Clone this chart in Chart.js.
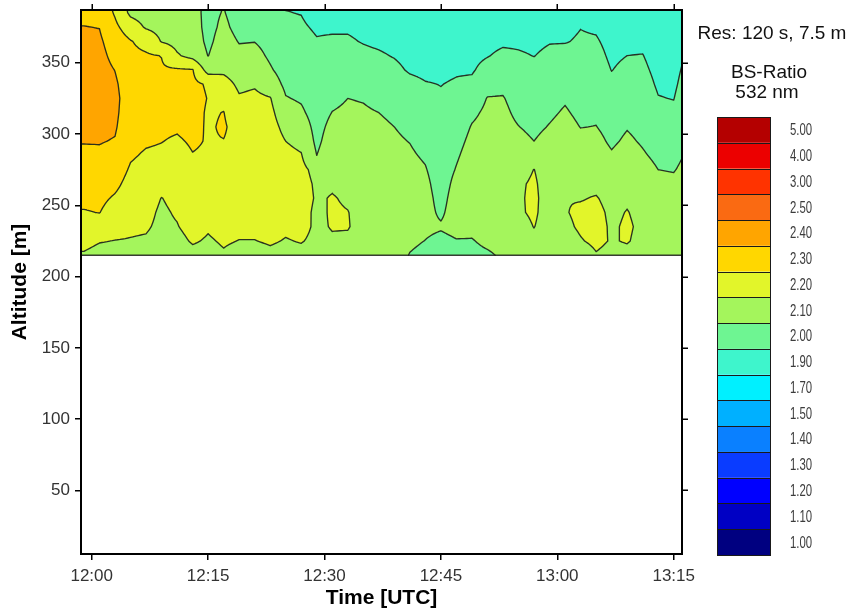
<!DOCTYPE html>
<html><head><meta charset="utf-8">
<script src="https://cdn.jsdelivr.net/npm/chart.js@4.4.1/dist/chart.umd.min.js"></script>
<style>html,body{margin:0;padding:0;background:#fff;}canvas{display:block;}</style>
</head><body>
<canvas id="c" width="854" height="612"></canvas>
<script>
// ---- data (minutes after 12:00 UTC, altitude in m, backscatter ratio 532 nm) ----
const times = [-1,1,3,5,7,9,11,13,15,17,19,21,23,25,27,29,31,33,35,37,39,41,43,45,47,49,51,53,55,57,59,61,63,65,67,69,71,73,75,77];
const altitudes = [215,225,235,245,255,265,275,285,295,305,315,325,335,345,355,365,375,385,395];
const bs215 = [2.19,2.17,2.165,2.16,2.16,2.15,2.15,2.17,2.17,2.19, 2.17,2.165,2.18,2.17,2.175,2.17,2.165,2.16,2.15,2.15, 2.15,2.095,2.07,2.05,2.05,2.06,2.08,2.12,2.13,2.14, 2.15,2.15,2.16,2.195,2.18,2.18,2.16,2.15,2.15,2.16];
const bs225 = [2.227,2.205,2.198,2.195,2.19,2.17,2.17,2.21,2.19,2.21, 2.198,2.198,2.21,2.195,2.205,2.18,2.19,2.185,2.16,2.16, 2.155,2.12,2.098,2.075,2.095,2.092,2.13,2.15,2.155,2.18, 2.165,2.17,2.195,2.215,2.195,2.205,2.18,2.165,2.16,2.17];
const bs235 = [2.26,2.25,2.23,2.215,2.21,2.18,2.195,2.235,2.21,2.23, 2.22,2.22,2.23,2.215,2.225,2.185,2.205,2.205,2.17,2.165, 2.16,2.14,2.12,2.11,2.13,2.135,2.16,2.17,2.17,2.202, 2.165,2.185,2.21,2.225,2.19,2.21,2.185,2.17,2.165,2.175];
const bs245 = [2.295,2.302,2.26,2.235,2.225,2.185,2.21,2.255,2.235,2.245, 2.24,2.24,2.245,2.23,2.235,2.18,2.21,2.202,2.175,2.17, 2.165,2.15,2.13,2.085,2.145,2.16,2.175,2.18,2.19,2.212, 2.165,2.195,2.215,2.22,2.185,2.203,2.18,2.165,2.16,2.17];
const bs255 = [2.318,2.32,2.29,2.255,2.24,2.198,2.225,2.27,2.255,2.26, 2.255,2.255,2.255,2.24,2.24,2.19,2.205,2.19,2.175,2.17, 2.165,2.15,2.13,2.07,2.14,2.17,2.18,2.185,2.19,2.215, 2.165,2.198,2.195,2.205,2.175,2.19,2.17,2.15,2.145,2.16];
const bs265 = [2.339,2.34,2.32,2.27,2.255,2.245,2.24,2.28,2.27,2.27, 2.265,2.265,2.26,2.245,2.235,2.185,2.19,2.18,2.17,2.165, 2.155,2.14,2.12,2.06,2.125,2.165,2.18,2.185,2.19,2.21, 2.165,2.19,2.185,2.18,2.16,2.175,2.155,2.125,2.12,2.145];
const bs275 = [2.36,2.36,2.345,2.29,2.27,2.265,2.255,2.29,2.28,2.275, 2.27,2.27,2.26,2.235,2.225,2.17,2.175,2.17,2.16,2.155, 2.14,2.125,2.105,2.055,2.105,2.15,2.17,2.175,2.175,2.201, 2.165,2.18,2.17,2.165,2.14,2.16,2.135,2.1,2.095,2.13];
const bs285 = [2.38,2.385,2.37,2.31,2.29,2.285,2.27,2.297,2.29,2.285, 2.275,2.27,2.255,2.22,2.205,2.1,2.16,2.16,2.15,2.145, 2.125,2.11,2.09,2.05,2.09,2.135,2.155,2.16,2.145,2.15, 2.15,2.165,2.15,2.145,2.11,2.14,2.11,2.08,2.075,2.115];
const bs295 = [2.405,2.405,2.395,2.325,2.31,2.302,2.29,2.31,2.295,2.298, 2.275,2.265,2.25,2.2,2.18,2.08,2.145,2.145,2.14,2.13, 2.11,2.098,2.075,2.045,2.075,2.12,2.14,2.145,2.125,2.1, 2.13,2.15,2.125,2.125,2.085,2.115,2.09,2.06,2.055,2.102];
const bs305 = [2.42,2.42,2.41,2.335,2.325,2.315,2.31,2.325,2.29,2.31, 2.265,2.255,2.24,2.17,2.15,2.07,2.125,2.13,2.125,2.115, 2.1,2.085,2.06,2.035,2.06,2.105,2.125,2.13,2.102,2.08, 2.105,2.13,2.098,2.102,2.07,2.095,2.075,2.04,2.035,2.09];
const bs315 = [2.43,2.43,2.42,2.34,2.335,2.325,2.32,2.33,2.29,2.302, 2.245,2.24,2.225,2.135,2.115,2.06,2.102,2.115,2.11,2.1, 2.085,2.07,2.045,2.025,2.045,2.085,2.115,2.12,2.08,2.07, 2.085,2.11,2.08,2.085,2.055,2.075,2.06,2.02,2.015,2.075];
const bs325 = [2.44,2.44,2.425,2.345,2.335,2.325,2.32,2.33,2.297,2.28, 2.21,2.22,2.205,2.105,2.09,2.05,2.08,2.1,2.095,2.08, 2.065,2.05,2.03,2.01,2.025,2.06,2.103,2.105,2.065,2.06, 2.07,2.09,2.065,2.07,2.04,2.06,2.045,2.003,1.998,2.06];
const bs335 = [2.45,2.45,2.415,2.34,2.33,2.32,2.315,2.32,2.29,2.24, 2.18,2.19,2.15,2.08,2.07,2.04,2.06,2.08,2.075,2.06, 2.045,2.025,2.005,1.998,2.01,2.02,2.075,2.08,2.05,2.045, 2.055,2.075,2.05,2.055,2.02,2.04,2.03,1.99,1.985,2.045];
const bs345 = [2.44,2.44,2.398,2.33,2.32,2.31,2.31,2.305,2.16,2.18, 2.15,2.16,2.11,2.06,2.055,2.03,2.045,2.06,2.05,2.035, 2.02,1.99,1.98,1.98,1.99,1.99,2.035,2.06,2.035,2.025, 2.04,2.055,2.035,2.04,1.998,2.02,2.015,1.98,1.975,2.03];
const bs355 = [2.43,2.43,2.37,2.32,2.31,2.298,2.21,2.17,2.098,2.16, 2.125,2.13,2.085,2.04,2.04,2.02,2.03,2.04,2.02,2.01, 1.995,1.975,1.97,1.97,1.975,1.975,1.995,2.02,2.01,1.998, 2.02,2.03,2.02,2.025,1.985,2.0,2.002,1.97,1.965,2.015];
const bs365 = [2.415,2.415,2.35,2.305,2.27,2.195,2.17,2.15,2.08,2.14, 2.095,2.098,2.07,2.025,2.025,2.005,2.01,2.01,1.995,1.985, 1.975,1.965,1.96,1.96,1.965,1.965,1.975,1.985,1.985,1.98, 1.995,1.995,2.01,2.008,1.975,1.985,1.985,1.965,1.96,2.005];
const bs375 = [2.402,2.398,2.32,2.25,2.19,2.17,2.155,2.14,2.072,2.12, 2.07,2.07,2.06,2.012,2.01,1.99,1.99,1.99,1.98,1.97, 1.965,1.955,1.955,1.955,1.955,1.955,1.965,1.97,1.97,1.97, 1.98,1.98,1.998,1.99,1.965,1.975,1.975,1.96,1.955,1.99];
const bs385 = [2.38,2.37,2.29,2.18,2.16,2.155,2.15,2.13,2.075,2.105, 2.06,2.05,2.045,2.002,1.998,1.97,1.975,1.975,1.97,1.96, 1.955,1.95,1.95,1.95,1.95,1.95,1.955,1.96,1.96,1.96, 1.965,1.965,1.98,1.975,1.96,1.965,1.965,1.955,1.95,1.98];
const bs395 = [2.37,2.36,2.27,2.16,2.15,2.15,2.145,2.12,2.085,2.095, 2.055,2.04,2.04,1.99,1.99,1.96,1.965,1.965,1.96,1.955, 1.95,1.945,1.945,1.945,1.945,1.945,1.95,1.955,1.955,1.955, 1.955,1.955,1.97,1.965,1.955,1.96,1.96,1.95,1.945,1.97];
const bsRows = [bs215,bs225,bs235,bs245,bs255,bs265,bs275,bs285,bs295,bs305,bs315,bs325,bs335,bs345,bs355,bs365,bs375,bs385,bs395];

const levelValues = [1.0,1.1,1.2,1.3,1.4,1.5,1.7,1.9,2.0,2.1,2.2,2.3,2.4,2.5,3.0,4.0,5.0];
const levelLabels = ['1.00','1.10','1.20','1.30','1.40','1.50','1.70','1.90','2.00','2.10','2.20','2.30','2.40','2.50','3.00','4.00','5.00'];
const levelColors = ['#000080','#0000c4','#0000ff','#0a3cff','#0a80ff','#00b0ff','#00f0ff','#3ef5cc','#6ef592','#a4f55c','#e2f52a','#ffd700','#ffa500','#fa6a12','#ff3300','#ec0000','#b40000'];

const timeTicks = [0,15,30,45,60,75];
const timeTickLabels = ['12:00','12:15','12:30','12:45','13:00','13:15'];
const altTicks = [50,100,150,200,250,300,350];

const FONT = "'Liberation Sans', Arial, Helvetica, sans-serif";

function hexRgb(h){ return [parseInt(h.slice(1,3),16),parseInt(h.slice(3,5),16),parseInt(h.slice(5,7),16)]; }
const rgbColors = levelColors.map(hexRgb);
function bandOf(v){ let k = 0; for (let m = 0; m < levelValues.length; m++) if (v >= levelValues[m]) k = m; return k; }

const contourPlugin = {
  id: 'contour',
  beforeDraw(chart) {
    const {ctx, chartArea: ca, scales: {x: xs, y: ys}} = chart;
    // display columns: first column is held to the left plot edge
    const cols = [Math.min(xs.min, times[0]), ...times];
    const V = (ci, rj) => bsRows[rj][Math.max(0, ci - 1)];
    const findIdx = (arr, v) => { let i = 0; while (i < arr.length - 2 && v > arr[i + 1]) i++; return i; };
    const value = (t, a) => {
      t = Math.max(cols[0], Math.min(cols[cols.length - 1], t));
      a = Math.max(altitudes[0], Math.min(altitudes[altitudes.length - 1], a));
      const i = findIdx(cols, t), j = findIdx(altitudes, a);
      const fx = (t - cols[i]) / (cols[i + 1] - cols[i]), fy = (a - altitudes[j]) / (altitudes[j + 1] - altitudes[j]);
      return V(i, j) * (1 - fx) * (1 - fy) + V(i + 1, j) * fx * (1 - fy) + V(i, j + 1) * (1 - fx) * fy + V(i + 1, j + 1) * fx * fy;
    };
    // filled bands, pixel by pixel through the scales
    const x0 = Math.round(ca.left), x1 = Math.round(ca.right);
    const yTop = Math.round(ca.top);
    const yBot = Math.round(Math.min(ys.getPixelForValue(altitudes[0]), ca.bottom));
    const w = x1 - x0, h = yBot - yTop;
    const img = ctx.createImageData(w, h);
    const tCol = []; for (let px = 0; px < w; px++) tCol.push(xs.getValueForPixel(x0 + px + 0.5));
    for (let py = 0; py < h; py++) {
      const a = ys.getValueForPixel(yTop + py + 0.5);
      for (let px = 0; px < w; px++) {
        const c = rgbColors[bandOf(value(tCol[px], a))];
        const o = (py * w + px) * 4;
        img.data[o] = c[0]; img.data[o + 1] = c[1]; img.data[o + 2] = c[2]; img.data[o + 3] = 255;
      }
    }
    ctx.putImageData(img, x0, yTop);
    // contour lines (marching squares on a refined bilinear grid)
    ctx.save();
    ctx.beginPath(); ctx.rect(ca.left, ca.top, ca.right - ca.left, yBot - ca.top + 1); ctx.clip();
    ctx.strokeStyle = 'rgba(34,40,30,0.95)'; ctx.lineWidth = 1.35; ctx.lineJoin = 'round'; ctx.lineCap = 'round';
    ctx.beginPath();
    const SUB = 6;
    for (let i = 0; i < cols.length - 1; i++) {
      for (let j = 0; j < altitudes.length - 1; j++) {
        const a00 = V(i, j), a10 = V(i + 1, j), a01 = V(i, j + 1), a11 = V(i + 1, j + 1);
        const bil = (fx, fy) => a00 * (1 - fx) * (1 - fy) + a10 * fx * (1 - fy) + a01 * (1 - fx) * fy + a11 * fx * fy;
        for (let si = 0; si < SUB; si++) for (let sj = 0; sj < SUB; sj++) {
          const fx0 = si / SUB, fx1 = (si + 1) / SUB, fy0 = sj / SUB, fy1 = (sj + 1) / SUB;
          const v00 = bil(fx0, fy0), v10 = bil(fx1, fy0), v11 = bil(fx1, fy1), v01 = bil(fx0, fy1);
          const lo = Math.min(v00, v10, v11, v01), hi = Math.max(v00, v10, v11, v01);
          const tA = cols[i] + (cols[i + 1] - cols[i]) * fx0, tB = cols[i] + (cols[i + 1] - cols[i]) * fx1;
          const aA = altitudes[j] + (altitudes[j + 1] - altitudes[j]) * fy0, aB = altitudes[j] + (altitudes[j + 1] - altitudes[j]) * fy1;
          const pxA = xs.getPixelForValue(tA), pxB = xs.getPixelForValue(tB);
          const pyA = ys.getPixelForValue(aA), pyB = ys.getPixelForValue(aB);
          for (const L of levelValues) {
            if (L <= lo || L > hi) continue;
            const pts = [];
            const edge = (va, vb, xa, ya, xb, yb) => {
              if ((va < L) !== (vb < L)) { const f = (L - va) / (vb - va); pts.push([xa + (xb - xa) * f, ya + (yb - ya) * f]); } else pts.push(null);
            };
            edge(v00, v10, pxA, pyA, pxB, pyA);
            edge(v10, v11, pxB, pyA, pxB, pyB);
            edge(v11, v01, pxB, pyB, pxA, pyB);
            edge(v01, v00, pxA, pyB, pxA, pyA);
            const found = pts.filter(p => p);
            if (found.length === 2) { ctx.moveTo(found[0][0], found[0][1]); ctx.lineTo(found[1][0], found[1][1]); }
            else if (found.length === 4) {
              const c = (v00 + v10 + v11 + v01) / 4;
              if ((c < L) === (v00 < L)) { ctx.moveTo(pts[0][0], pts[0][1]); ctx.lineTo(pts[1][0], pts[1][1]); ctx.moveTo(pts[2][0], pts[2][1]); ctx.lineTo(pts[3][0], pts[3][1]); }
              else { ctx.moveTo(pts[0][0], pts[0][1]); ctx.lineTo(pts[3][0], pts[3][1]); ctx.moveTo(pts[1][0], pts[1][1]); ctx.lineTo(pts[2][0], pts[2][1]); }
            }
          }
        }
      }
    }
    ctx.stroke();
    ctx.restore();
    // lower edge of the measured layer
    ctx.save();
    ctx.strokeStyle = 'rgba(34,40,30,0.9)'; ctx.lineWidth = 1.4;
    ctx.beginPath(); ctx.moveTo(ca.left, ys.getPixelForValue(altitudes[0])); ctx.lineTo(ca.right, ys.getPixelForValue(altitudes[0])); ctx.stroke();
    ctx.restore();
  },
  afterDraw(chart) {
    const {ctx, chartArea: ca, scales: {x: xs, y: ys}} = chart;
    ctx.save();
    // top and right frame with outward ticks
    ctx.strokeStyle = '#000'; ctx.lineWidth = 2;
    ctx.beginPath();
    ctx.moveTo(ca.left - 1, ca.top); ctx.lineTo(ca.right, ca.top); ctx.lineTo(ca.right, ca.bottom + 1);
    ctx.stroke();
    ctx.lineWidth = 1.5;
    ctx.beginPath();
    for (const v of timeTicks) { const x = Math.round(xs.getPixelForValue(v)) + 0.25; ctx.moveTo(x, ca.top); ctx.lineTo(x, ca.top - 6); }
    for (const v of altTicks) { const y = Math.round(ys.getPixelForValue(v)) + 0.25; ctx.moveTo(ca.right, y); ctx.lineTo(ca.right + 6, y); }
    ctx.stroke();
    // colour bar
    const cbL = 717, cbR = 771, cbT = 117, cbB = 555;
    const n = levelLabels.length, bh = (cbB - cbT) / n;
    for (let k = 0; k < n; k++) {
      const idx = n - 1 - k;
      const y = cbT + k * bh;
      ctx.fillStyle = levelColors[idx];
      ctx.fillRect(cbL, y, cbR - cbL, bh);
    }
    ctx.strokeStyle = '#1a1a1a'; ctx.lineWidth = 1;
    ctx.beginPath();
    for (let k = 0; k <= n; k++) { const y = Math.round(cbT + k * bh) + 0.5; ctx.moveTo(cbL, y); ctx.lineTo(cbR, y); }
    ctx.moveTo(cbL + 0.5, cbT); ctx.lineTo(cbL + 0.5, cbB); ctx.moveTo(cbR - 0.5, cbT); ctx.lineTo(cbR - 0.5, cbB);
    ctx.stroke();
    ctx.fillStyle = '#3c3c3c'; ctx.font = '16px ' + FONT; ctx.textAlign = 'left'; ctx.textBaseline = 'middle';
    for (let k = 0; k < n; k++) {
      const idx = n - 1 - k;
      ctx.save();
      ctx.translate(790, cbT + (k + 0.5) * bh + 1);
      ctx.scale(0.71, 1);
      ctx.fillText(levelLabels[idx], 0, 0);
      ctx.restore();
    }
    ctx.fillStyle = '#111'; ctx.textAlign = 'center'; ctx.font = '19px ' + FONT;
    ctx.fillText('Res: 120 s, 7.5 m', 772, 34);
    ctx.fillText('BS-Ratio', 769, 73);
    ctx.fillText('532 nm', 767, 93);
    ctx.restore();
  }
};

new Chart(document.getElementById('c'), {
  type: 'scatter',
  data: { datasets: [] },
  options: {
    responsive: false, animation: false, devicePixelRatio: 1,
    layout: { padding: { left: 0, right: 172, top: 10, bottom: 0 } },
    plugins: { legend: { display: false }, tooltip: { enabled: false } },
    scales: {
      x: {
        type: 'linear', min: -1.38, max: 76.07, bounds: 'data',
        afterBuildTicks: s => { s.ticks = timeTicks.map(v => ({ value: v })); },
        afterFit: s => { s.height = 58; s.paddingLeft = 0; s.paddingRight = 0; },
        ticks: { autoSkip: false, maxRotation: 0, minRotation: 0, padding: 6, color: '#333', font: { family: FONT, size: 17 },
                 callback: v => { const k = timeTicks.indexOf(v); return k >= 0 ? timeTickLabels[k] : ''; } },
        grid: { drawOnChartArea: false, drawTicks: true, tickLength: 6, color: '#000', lineWidth: 1.5 },
        border: { display: true, color: '#000', width: 2 },
        title: { display: true, text: 'Time [UTC]', color: '#000', font: { family: FONT, size: 21, weight: 'bold' }, padding: { top: 0, bottom: 1 } }
      },
      y: {
        type: 'linear', min: 5.4, max: 387, bounds: 'data',
        afterBuildTicks: s => { s.ticks = altTicks.map(v => ({ value: v })); },
        afterFit: s => { s.width = 81; s.paddingTop = 0; s.paddingBottom = 0; },
        ticks: { autoSkip: false, padding: 5, color: '#333', font: { family: FONT, size: 17 }, callback: v => String(v) },
        grid: { drawOnChartArea: false, drawTicks: true, tickLength: 6, color: '#000', lineWidth: 1.5 },
        border: { display: true, color: '#000', width: 2 },
        title: { display: true, text: 'Altitude [m]', color: '#000', font: { family: FONT, size: 21, weight: 'bold' }, padding: { top: 8, bottom: 0 } }
      }
    }
  },
  plugins: [contourPlugin]
});
</script>
</body></html>
